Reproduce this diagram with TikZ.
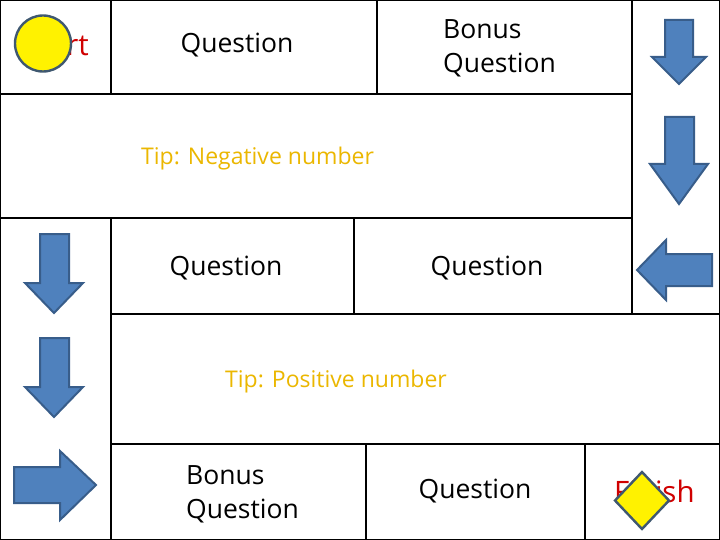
\documentclass[tikz,border=0pt]{standalone}
\usepackage{fontspec}
\setmainfont{Open Sans}
\usetikzlibrary{shapes.geometric}
\definecolor{arrowfill}{HTML}{4F81BD}
\definecolor{arrowline}{HTML}{385D8A}
\definecolor{tokenline}{HTML}{3F5870}
\definecolor{tiptext}{HTML}{EBB700}
\definecolor{redtext}{HTML}{D00000}
\begin{document}
\begin{tikzpicture}[x=1pt,y=-1pt,
  cell/.style={draw=black,line width=2.8pt},
  lbl/.style={font=\fontsize{26.5}{33.5}\selectfont,inner sep=0pt,align=left},
  tiplbl/.style={font=\fontsize{23}{28}\selectfont,inner sep=0pt,align=left,text=tiptext},
  redlbl/.style={font=\fontsize{29.5}{35}\selectfont,inner sep=0pt,text=redtext},
  bluearrow/.style={fill=arrowfill,draw=arrowline,line width=2pt,line join=miter}]
\useasboundingbox (0,0) rectangle (720,540);
\fill[white] (0,0) rectangle (720,540);
% board cells
\draw[cell] (0,0) rectangle (111,94);
\draw[cell] (111,0) rectangle (377,94);
\draw[cell] (377,0) rectangle (632,94);
\draw[cell] (632,0) rectangle (720,314);
\draw[cell] (0,94) rectangle (632,218);
\draw[cell] (0,218) rectangle (111,540);
\draw[cell] (111,218) rectangle (354,314);
\draw[cell] (354,218) rectangle (632,314);
\draw[cell] (111,314) rectangle (720,444);
\draw[cell] (111,444) rectangle (366,540);
\draw[cell] (366,444) rectangle (585,540);
\draw[cell] (585,444) rectangle (720,540);
% texts
\node[redlbl,anchor=east] (start) at (89,45) {Start};
\node[lbl] (q1) at (237,45.5) {Question};
\node[lbl,anchor=west] (b1) at (443,48.5) {Bonus\\Question};
\node[tiplbl,anchor=west] (tip1) at (141,158.5) {Tip: Negative number};
\node[lbl] (q2) at (226,268.5) {Question};
\node[lbl] (q3) at (487,268.5) {Question};
\node[tiplbl,anchor=west] (tip2) at (225,381.5) {Tip: Positive number};
\node[lbl,anchor=west] (b2) at (186,494.5) {Bonus\\Question};
\node[lbl] (q4) at (475,491.5) {Question};
\node[redlbl,anchor=west] (finish) at (614,491) {Finish};
% tokens
\node[circle,fill=yellow,draw=tokenline,line width=2.4pt,minimum size=56pt,inner sep=0pt] (tokstart) at (43,43.5) {};
\node[diamond,fill=yellow,draw=tokenline,line width=2.4pt,minimum width=55pt,minimum height=58pt,inner sep=0pt] (tokfinish) at (642,500.5) {};
% right column arrows
\draw[bluearrow] (665,20) -- (693,20) -- (693,57) -- (706,57) -- (679,84) -- (652,57) -- (665,57) -- cycle;
\draw[bluearrow] (665,117) -- (694,117) -- (694,164) -- (708,164) -- (679,204) -- (650,164) -- (665,164) -- cycle;
\draw[bluearrow] (712,254) -- (712,286) -- (666,286) -- (666,300) -- (637,270) -- (666,240) -- (666,254) -- cycle;
% left column arrows
\draw[bluearrow] (40,234) -- (69,234) -- (69,283) -- (83,283) -- (54,313) -- (25,283) -- (40,283) -- cycle;
\draw[bluearrow] (40,338) -- (69,338) -- (69,387) -- (83,387) -- (54,417) -- (25,387) -- (40,387) -- cycle;
\draw[bluearrow] (14,467) -- (60,467) -- (60,451) -- (96,485) -- (60,520) -- (60,503) -- (14,503) -- cycle;
\end{tikzpicture}
\end{document}
